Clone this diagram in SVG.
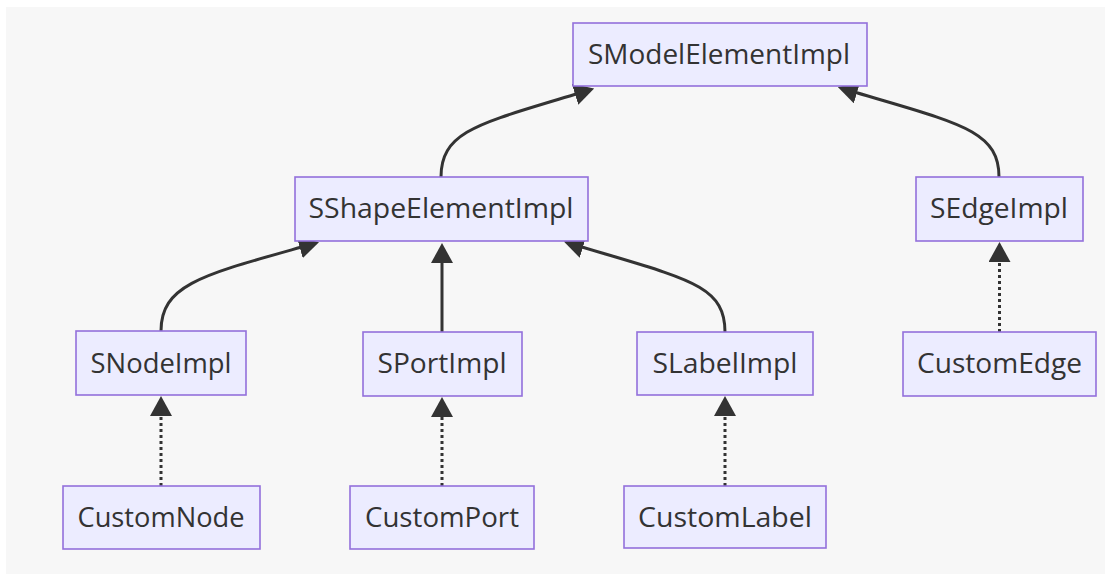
<svg xmlns="http://www.w3.org/2000/svg" width="1105" height="574" viewBox="0 0 1105 574">
  <style>
    .node rect { fill: #ECECFF; stroke: #9370DB; stroke-width: 1.6; }
    .node text { font-family: "Open Sans", "Liberation Sans", sans-serif; font-size: 27px; fill: #333333; text-anchor: middle; }
    .edge { fill: none; stroke: #333333; stroke-width: 3; }
    .dotted { stroke-dasharray: 3 3; }
  </style>
  <defs>
    <marker id="head" markerUnits="userSpaceOnUse" viewBox="0 0 20 22" markerWidth="20" markerHeight="22" refX="1" refY="11" orient="auto">
      <path d="M0,0 L20,11 L0,22 z" fill="#333333"/>
    </marker>
  </defs>

  <!-- canvas -->
  <rect x="0" y="0" width="1105" height="574" fill="#ffffff"/>
  <rect x="6" y="7" width="1099" height="567" fill="#f7f7f7"/>

  <!-- inheritance connectors -->
  <g id="edges">
    <path class="edge" marker-end="url(#head)" d="M441,177 C441,130 482,123 576,94"/>
    <path class="edge" marker-end="url(#head)" d="M999,177 C999,130 958,123 856,92.5"/>
    <path class="edge" marker-end="url(#head)" d="M161,331 C161,285 202,275 300.7,247.3"/>
    <path class="edge" marker-end="url(#head)" d="M442,332 L442,262"/>
    <path class="edge" marker-end="url(#head)" d="M725,332 C725,285 688,279 582,247"/>
    <path class="edge dotted" marker-end="url(#head)" d="M161,486 L161,415"/>
    <path class="edge dotted" marker-end="url(#head)" d="M442,486 L442,416"/>
    <path class="edge dotted" marker-end="url(#head)" d="M725,486 L725,415"/>
    <path class="edge dotted" marker-end="url(#head)" d="M999.5,332 L999.5,261"/>
  </g>

  <!-- class nodes -->
  <g id="SModelElementImpl" class="node">
    <rect x="573" y="23" width="294" height="63"/>
    <text x="719" y="64" textLength="262" lengthAdjust="spacingAndGlyphs">SModelElementImpl</text>
  </g>
  <g id="SShapeElementImpl" class="node">
    <rect x="295" y="177" width="293" height="64"/>
    <text x="441" y="218" textLength="265" lengthAdjust="spacingAndGlyphs">SShapeElementImpl</text>
  </g>
  <g id="SEdgeImpl" class="node">
    <rect x="916" y="177" width="167" height="64"/>
    <text x="999" y="218" textLength="138" lengthAdjust="spacingAndGlyphs">SEdgeImpl</text>
  </g>
  <g id="SNodeImpl" class="node">
    <rect x="76" y="331" width="170" height="64"/>
    <text x="161" y="373" textLength="141" lengthAdjust="spacingAndGlyphs">SNodeImpl</text>
  </g>
  <g id="SPortImpl" class="node">
    <rect x="363" y="332" width="159" height="64"/>
    <text x="442" y="373" textLength="129" lengthAdjust="spacingAndGlyphs">SPortImpl</text>
  </g>
  <g id="SLabelImpl" class="node">
    <rect x="637" y="332" width="176" height="63"/>
    <text x="725" y="373" textLength="145" lengthAdjust="spacingAndGlyphs">SLabelImpl</text>
  </g>
  <g id="CustomEdge" class="node">
    <rect x="903" y="332" width="193" height="64"/>
    <text x="999.5" y="373" textLength="165" lengthAdjust="spacingAndGlyphs">CustomEdge</text>
  </g>
  <g id="CustomNode" class="node">
    <rect x="63" y="486" width="197" height="63"/>
    <text x="161" y="527" textLength="167" lengthAdjust="spacingAndGlyphs">CustomNode</text>
  </g>
  <g id="CustomPort" class="node">
    <rect x="350" y="486" width="184" height="63"/>
    <text x="442" y="527" textLength="154" lengthAdjust="spacingAndGlyphs">CustomPort</text>
  </g>
  <g id="CustomLabel" class="node">
    <rect x="624" y="486" width="202" height="62"/>
    <text x="725" y="527" textLength="174" lengthAdjust="spacingAndGlyphs">CustomLabel</text>
  </g>
</svg>
